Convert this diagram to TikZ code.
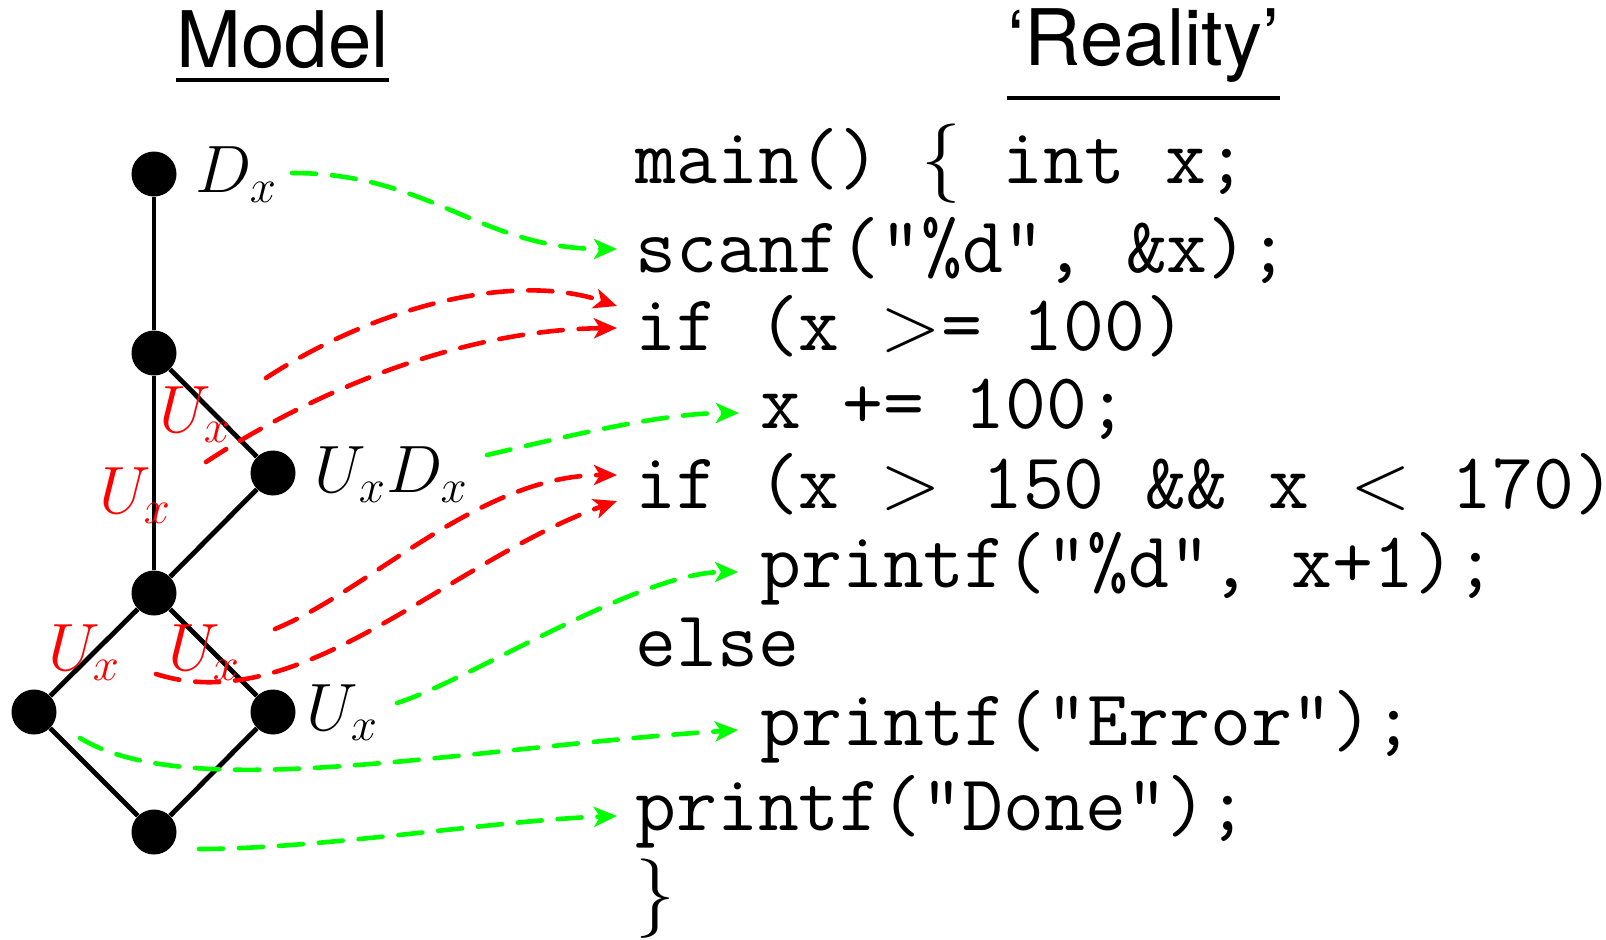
\RequirePackage{fix-cm}
\documentclass[tikz,border=0pt]{standalone}
\usepackage{fontspec}
\newfontfamily\heros{TeX Gyre Heros}
\usetikzlibrary{arrows.meta}
\definecolor{lgreen}{RGB}{0,255,0}
\definecolor{lred}{RGB}{255,0,0}
\frenchspacing
\begin{document}
\begin{tikzpicture}[x=0.5pt,y=-0.5pt,
  vtx/.style={circle,fill=black,inner sep=0pt,minimum size=22.5pt},
  edge/.style={line width=2.4pt},
  lab/.style={anchor=base west,inner sep=0pt,font=\fontsize{33.5}{40}\selectfont},
  rlab/.style={lab,text=lred},
  code/.style={anchor=base west,inner sep=0pt,font=\ttfamily\fontsize{39.7}{46}\selectfont},
  title/.style={anchor=base west,inner sep=0pt,font=\heros\fontsize{39}{44}\selectfont},
  link/.style={line width=2.3pt,line cap=round,dash pattern=on 12pt off 8pt,
    -{Stealth[length=11.5pt,width=10pt,inset=3pt]}},
  glink/.style={link,draw=lgreen,color=lgreen},
  rlink/.style={link,draw=lred,color=lred}]
\useasboundingbox (0,0) rectangle (1606,939);

% titles
\node[title] (model) at (176,67) {Model};
\node[title] (reality) at (1007,65) {‘Reality’};
\draw[line width=2pt] ([yshift=-6.5pt]model.base west) -- ([yshift=-6.5pt]model.base east);
\draw[line width=2pt] ([yshift=-16.5pt]reality.base west) -- ([yshift=-16.5pt]reality.base east);

% lattice
\node[vtx] (n1) at (154,174) {};
\node[vtx] (n2) at (154,353) {};
\node[vtx] (n3) at (273,473) {};
\node[vtx] (n4) at (154,593) {};
\node[vtx] (n5) at (34,712) {};
\node[vtx] (n6) at (273,712) {};
\node[vtx] (n7) at (154,832) {};
\draw[edge] (n1) -- (n2) -- (n4);
\draw[edge] (n2) -- (n3) -- (n4);
\draw[edge] (n4) -- (n5) -- (n7) -- (n6) -- (n4);

% labels
\node[lab] (ldx) at (195,192) {$D_x$};
\node[lab] (luxdx) at (314,492) {$U_xD_x$};
\node[lab] (lux) at (306,730) {$U_x$};
\node[rlab] (ra) at (159,432) {$U_x$};
\node[rlab] (rb) at (99,513) {$U_x$};
\node[rlab] (rc) at (48,670) {$U_x$};
\node[rlab] (rd) at (168,670) {$U_x$};

% code
\node[code] (c1) at (635,183) {main() $\{$ int x;};
\node[code] (c2) at (635,272) {scanf("\%d", \&x);};
\node[code] (c3) at (635,350) {if (x $>$= 100)};
\node[code] (c4) at (760,428) {x += 100;};
\node[code] (c5) at (635,508) {if (x $>$ 150 \&\& x $<$ 170)};
\node[code] (c6) at (760,587) {printf("\%d", x+1);};
\node[code] (c7) at (635,666) {else};
\node[code] (c8) at (760,745) {printf("Error");};
\node[code] (c9) at (635,830) {printf("Done");};
\node[code] (c10) at (635,918) {$\}$};

% connector start points
\coordinate (gs1) at (292,173);
\coordinate (gs2) at (487,455);
\coordinate (gs3) at (397,703);
\coordinate (gs4) at (80,738);
\coordinate (gs5) at (199,849);
\coordinate (rs1) at (266,378);
\coordinate (rs2) at (206,462);
\coordinate (rs3) at (275,629);
\coordinate (rs4) at (156,674);

% green links
\draw[glink] (gs1) .. controls (430,173) and (480,249) .. ([shift={(-18,-23)}]c2.base west);
\draw[glink] (gs2) .. controls (560,438) and (660,413) .. ([shift={(-21,-15)}]c4.base west);
\draw[glink] (gs3) .. controls (470,680) and (640,572) .. ([shift={(-22,-15)}]c6.base west);
\draw[glink] (gs4) .. controls (190,805) and (460,748) .. ([shift={(-22,-15)}]c8.base west);
\draw[glink] (gs5) .. controls (320,849) and (500,820) .. ([shift={(-18,-14)}]c9.base west);

% red links
\draw[rlink] (rs1) .. controls (370,310) and (510,270) .. ([shift={(-18,-44)}]c3.base west);
\draw[rlink] (rs2) .. controls (300,400) and (450,330) .. ([shift={(-18,-22)}]c3.base west);
\draw[rlink] (rs3) .. controls (370,590) and (480,475) .. ([shift={(-18,-33)}]c5.base west);
\draw[rlink] (rs4) .. controls (300,720) and (450,560) .. ([shift={(-18,-7)}]c5.base west);
\end{tikzpicture}
\end{document}
